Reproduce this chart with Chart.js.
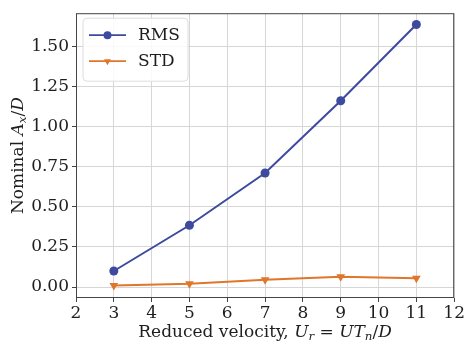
<!DOCTYPE html>
<html>
<head>
<meta charset="utf-8">
<script src="https://cdn.jsdelivr.net/npm/chart.js@4"></script>
<style>
  html, body { margin: 0; padding: 0; background: #fff; }
  #wrap { width: 466px; height: 346px; }
</style>
</head>
<body>
<div id="wrap"><canvas id="ampChart" width="466" height="346"></canvas></div>
<script>
// reduced velocity values
var velocities = [3, 5, 7, 9, 11];
var rmsValues = [0.10, 0.385, 0.71, 1.16, 1.635];
var stdValues = [0.01, 0.02, 0.045, 0.065, 0.055];
var yTickValues = [0, 0.25, 0.5, 0.75, 1.0, 1.25, 1.5];
var seriesNames = ['RMS', 'STD'];

var BLUE = '#3d4a9e';
var ORANGE = '#e0762a';
var SERIF = '"DejaVu Serif", "Liberation Serif", serif';
var FS = 17;

function points(vals) {
    return velocities.map(function(v, i) { return { x: v, y: vals[i] }; });
}

// draw a run of text pieces, some italic, some subscript
function drawRich(ctx, parts, size) {
    var total = 0;
    parts.forEach(function(p) {
        var s = p.sub ? size * 0.7 : size;
        ctx.font = (p.it ? 'italic ' : '') + s + 'px ' + SERIF;
        p.w = ctx.measureText(p.t).width;
        total += p.w;
    });
    var x = -total / 2;
    parts.forEach(function(p) {
        var s = p.sub ? size * 0.7 : size;
        ctx.font = (p.it ? 'italic ' : '') + s + 'px ' + SERIF;
        ctx.fillText(p.t, x, p.sub ? size * 0.25 : 0);
        x += p.w;
    });
}

var extras = {
    id: 'extras',
    afterDraw: function(chart) {
        var ctx = chart.ctx;
        var a = chart.chartArea;
        ctx.save();
        // frame
        ctx.strokeStyle = '#444';
        ctx.lineWidth = 1;
        ctx.strokeRect(a.left + 0.5, a.top + 0.5, a.right - a.left - 1, a.bottom - a.top - 1);

        ctx.fillStyle = '#1e1e1e';
        ctx.textBaseline = 'middle';
        // x axis title
        ctx.save();
        ctx.translate((a.left + a.right) / 2, 333);
        drawRich(ctx, [
            { t: 'Reduced velocity, ' },
            { t: 'U', it: true }, { t: 'r', it: true, sub: true },
            { t: ' = ' },
            { t: 'UT', it: true }, { t: 'n', it: true, sub: true },
            { t: '/' }, { t: 'D', it: true }
        ], FS);
        ctx.restore();
        // y axis title
        ctx.save();
        ctx.translate(19, (a.top + a.bottom) / 2);
        ctx.rotate(-Math.PI / 2);
        drawRich(ctx, [
            { t: 'Nominal ' },
            { t: 'A', it: true }, { t: 'x', it: true, sub: true },
            { t: '/' }, { t: 'D', it: true }
        ], FS);
        ctx.restore();

        // legend
        var lx = a.left + 7, ly = a.top + 5, lw = 105, lh = 63;
        ctx.beginPath();
        ctx.roundRect(lx, ly, lw, lh, 4);
        ctx.fillStyle = 'rgba(255,255,255,0.85)';
        ctx.fill();
        ctx.lineWidth = 1;
        ctx.strokeStyle = '#ddd';
        ctx.stroke();
        var colors = [BLUE, ORANGE];
        var styles = ['circle', 'triangle'];
        seriesNames.forEach(function(name, i) {
            var yy = ly + 17 + i * 26;
            ctx.strokeStyle = colors[i];
            ctx.lineWidth = 1.8;
            ctx.beginPath();
            ctx.moveTo(lx + 6, yy);
            ctx.lineTo(lx + 43, yy);
            ctx.stroke();
            ctx.fillStyle = colors[i];
            Chart.helpers.drawPoint(ctx, {
                pointStyle: styles[i], radius: 4, rotation: styles[i] === 'triangle' ? 180 : 0, borderWidth: 0
            }, lx + 24.5, yy);
            ctx.fillStyle = '#1e1e1e';
            ctx.font = FS + 'px ' + SERIF;
            ctx.textBaseline = 'middle';
            ctx.fillText(name, lx + 55, yy);
        });
        ctx.restore();
    }
};

var ctx = document.getElementById('ampChart').getContext('2d');
var ampChart = new Chart(ctx, {
    type: 'line',
    data: {
        datasets: [
            {
                label: seriesNames[0],
                data: points(rmsValues),
                borderColor: BLUE,
                backgroundColor: BLUE,
                borderWidth: 2,
                pointStyle: 'circle',
                pointRadius: 4.5,
                pointBorderWidth: 0
            },
            {
                label: seriesNames[1],
                data: points(stdValues),
                borderColor: ORANGE,
                backgroundColor: ORANGE,
                borderWidth: 2,
                pointStyle: 'triangle',
                pointRotation: 180,
                pointRadius: 5,
                pointBorderWidth: 0
            }
        ]
    },
    options: {
        responsive: false,
        animation: false,
        layout: { padding: { top: 12, right: 10, left: 0, bottom: 0 } },
        plugins: { legend: { display: false }, tooltip: { enabled: false } },
        scales: {
            x: {
                type: 'linear',
                min: 2,
                max: 12,
                ticks: { stepSize: 1, color: '#1e1e1e', font: { family: SERIF, size: FS }, padding: 1 },
                grid: { color: '#d6d6d6', tickColor: '#444', tickLength: 4 },
                border: { display: false },
                afterFit: function(scale) { scale.height = 48; }
            },
            y: {
                min: -0.068,
                max: 1.705,
                afterBuildTicks: function(scale) {
                    scale.ticks = yTickValues.map(function(v) { return { value: v }; });
                },
                ticks: {
                    color: '#1e1e1e',
                    font: { family: SERIF, size: FS },
                    padding: 3,
                    callback: function(value) { return value.toFixed(2); }
                },
                grid: { color: '#d6d6d6', tickColor: '#444', tickLength: 4 },
                border: { display: false },
                afterFit: function(scale) { scale.width = 76; }
            }
        }
    },
    plugins: [extras]
});
</script>
</body>
</html>
